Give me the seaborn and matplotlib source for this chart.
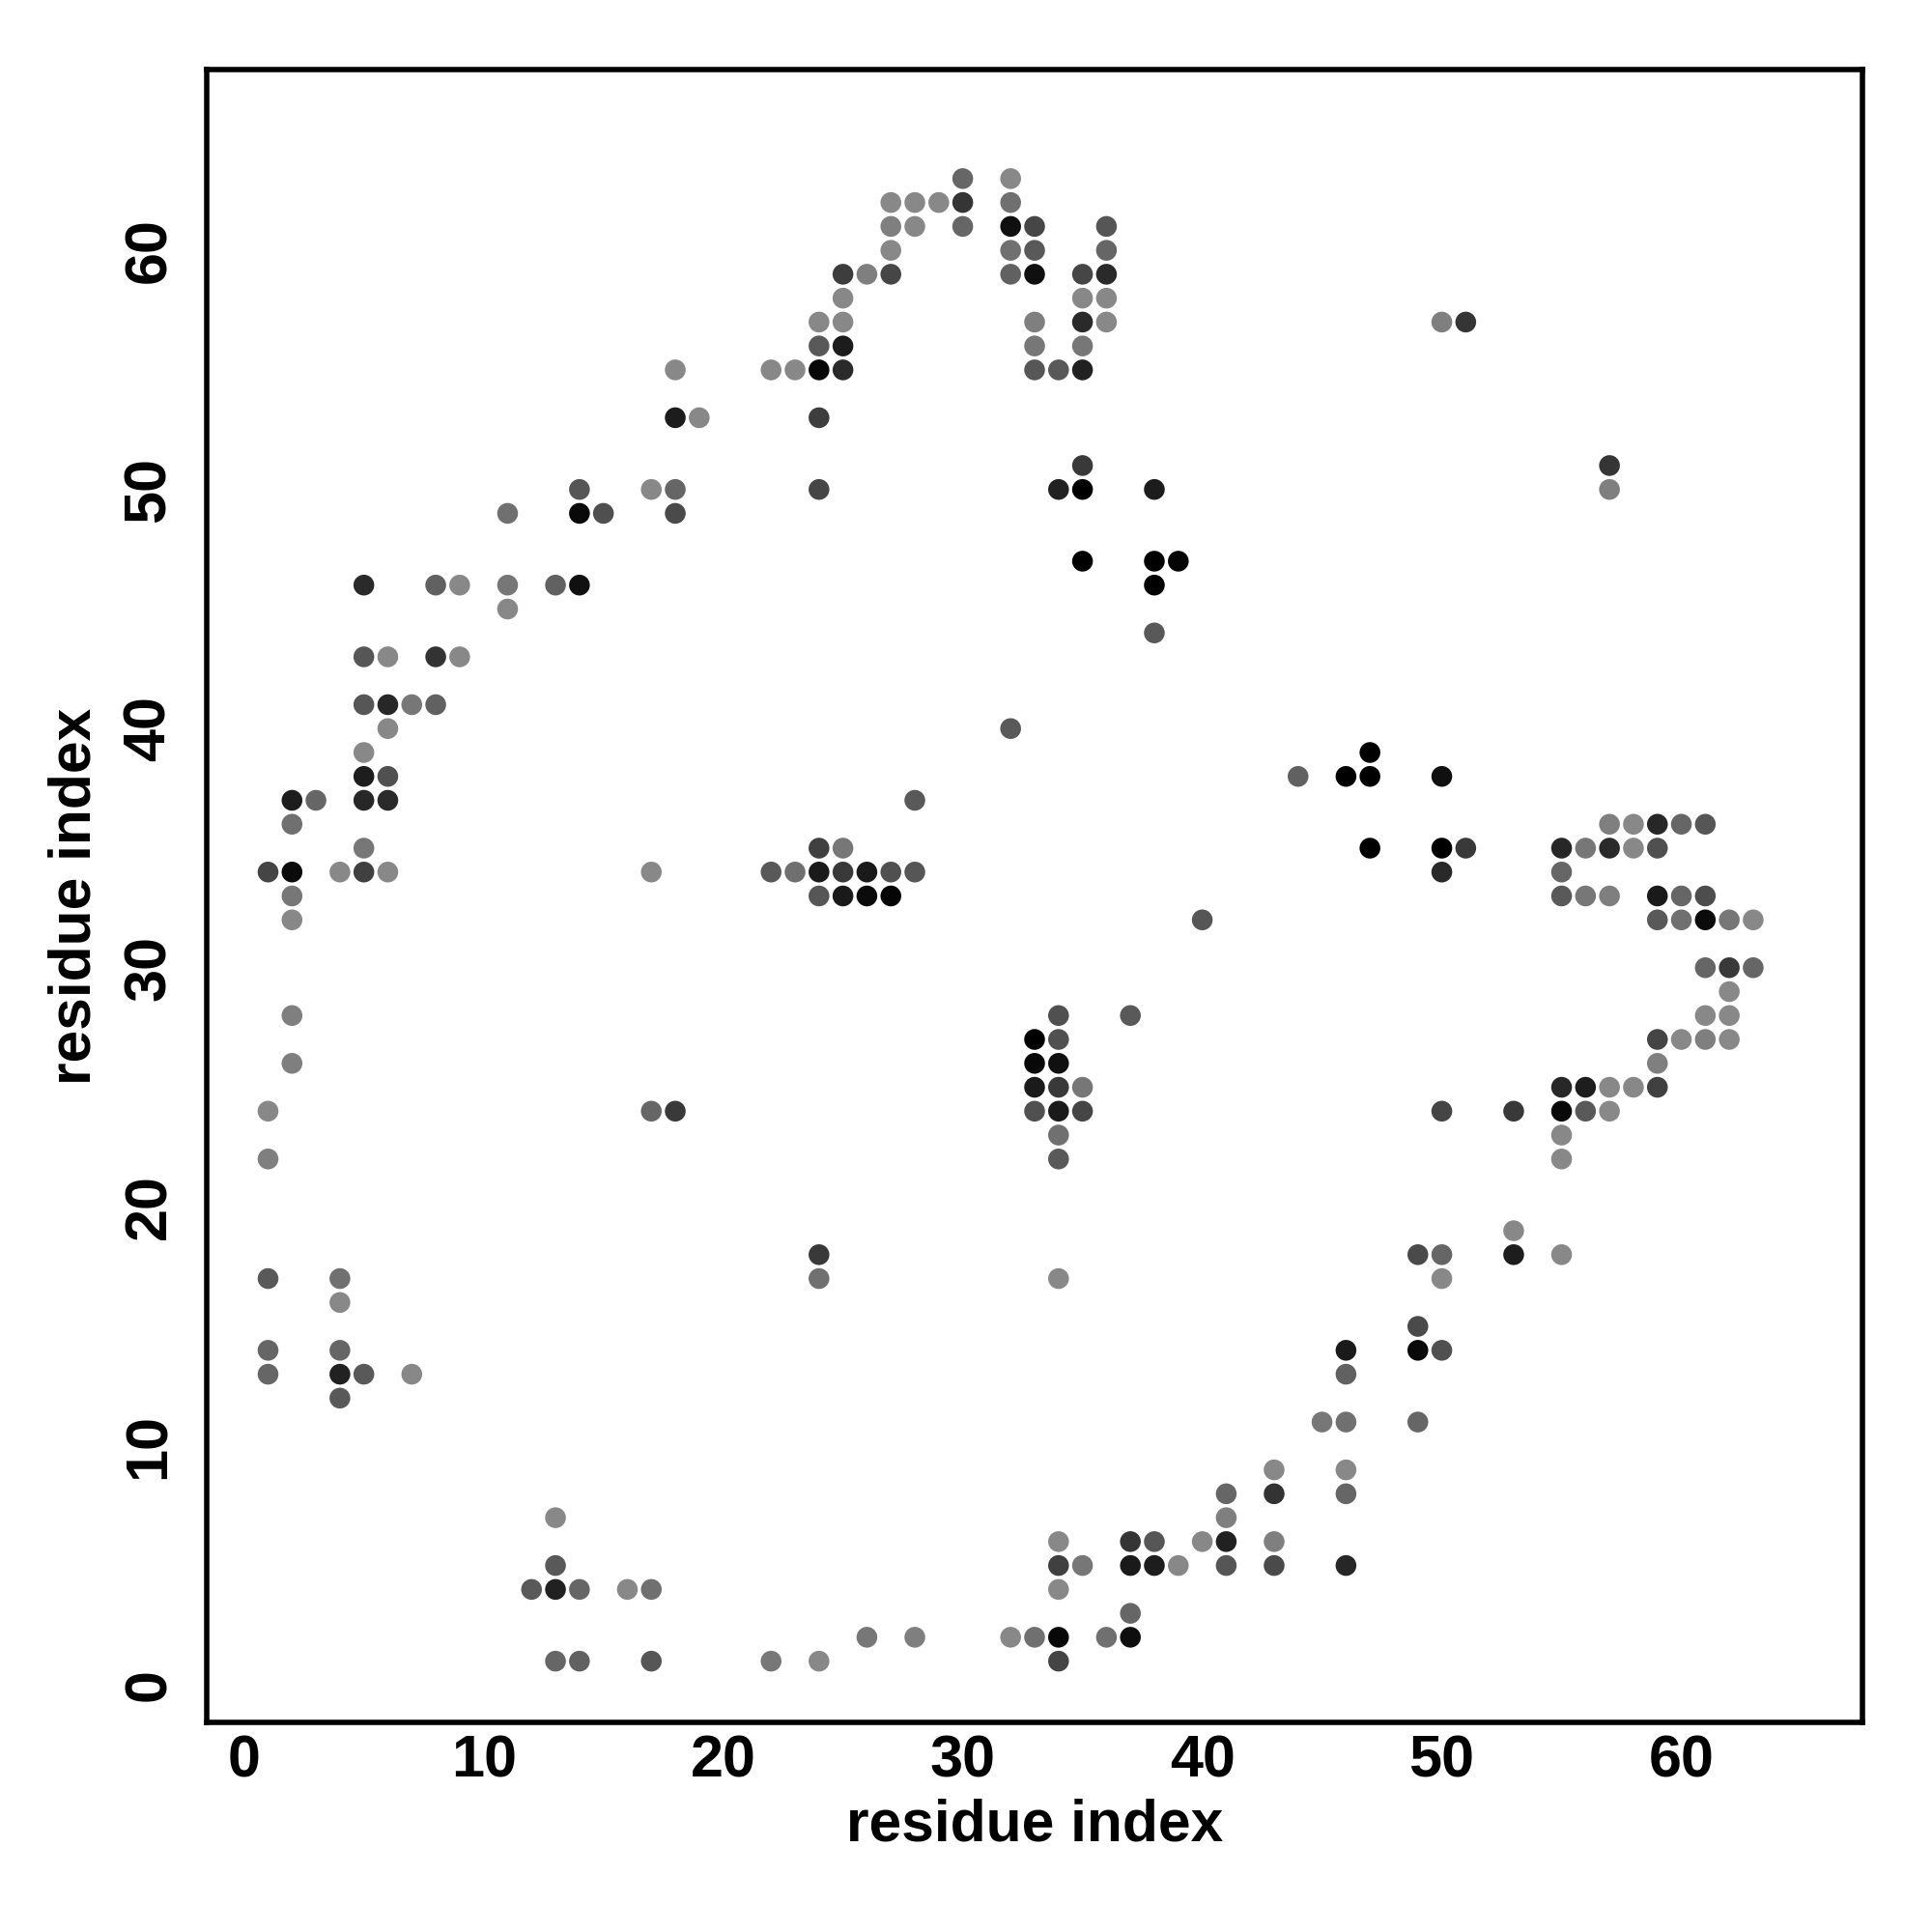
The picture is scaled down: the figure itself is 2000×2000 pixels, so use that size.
import pandas as pd
import matplotlib
matplotlib.use("Agg")
import matplotlib.pyplot as plt
from matplotlib.colors import LinearSegmentedColormap
import seaborn as sns

# contact pairs (i, j) and contact strength (0 = weak / light grey, 1 = strong / black)
res_i = [
    30, 32,
    27, 28, 29, 30, 32,
    27, 28, 30, 32, 33, 36,
    27, 32, 33, 36,
    25, 26, 27, 32, 33, 35, 36,
    25, 35, 36,
    24, 25, 33, 35, 36, 50, 51,
    24, 25, 33, 35,
    18, 22, 23, 24, 25, 33, 34, 35,
    18, 19, 24,
    35, 57,
    14, 17, 18, 24, 34, 35, 38, 57,
    11, 14, 15, 18,
    35, 38, 39,
    5, 8, 9, 11, 13, 14, 38,
    11,
    38,
    5, 6, 8, 9,
    5, 6, 7, 8,
    6, 32,
    5, 47,
    5, 6, 44, 46, 47, 50,
    2, 3, 5, 6, 28,
    2, 57, 58, 59, 60, 61,
    5, 24, 25, 47, 50, 51, 55, 56, 57, 58, 59,
    1, 2, 4, 5, 6, 17, 22, 23, 24, 25, 26, 27, 28, 50, 55,
    2, 24, 25, 26, 27, 55, 56, 57, 59, 60, 61,
    2, 40, 59, 60, 61, 62, 63,
    61, 62, 63,
    62,
    2, 34, 37, 61, 62,
    33, 34, 59, 60, 61, 62,
    2, 33, 34, 59,
    33, 34, 35, 55, 56, 57, 58, 59,
    1, 17, 18, 33, 34, 35, 50, 53, 55, 56, 57,
    34, 55,
    1, 34, 55,
    53,
    24, 49, 50, 53, 55,
    1, 4, 24, 34, 50,
    4,
    49,
    1, 4, 46, 49, 50,
    1, 4, 5, 7, 46,
    4,
    45, 46, 49,
    43, 46,
    41, 43, 46,
    13, 41,
    34, 37, 38, 40, 41, 43,
    13, 34, 35, 37, 38, 39, 41, 43, 46,
    12, 13, 14, 16, 17, 34,
    37,
    26, 28, 32, 33, 34, 36, 37,
    13, 14, 17, 22, 24, 34,
]
res_j = [
    63, 63,
    62, 62, 62, 62, 62,
    61, 61, 61, 61, 61, 61,
    60, 60, 60, 60,
    59, 59, 59, 59, 59, 59, 59,
    58, 58, 58,
    57, 57, 57, 57, 57, 57, 57,
    56, 56, 56, 56,
    55, 55, 55, 55, 55, 55, 55, 55,
    53, 53, 53,
    51, 51,
    50, 50, 50, 50, 50, 50, 50, 50,
    49, 49, 49, 49,
    47, 47, 47,
    46, 46, 46, 46, 46, 46, 46,
    45,
    44,
    43, 43, 43, 43,
    41, 41, 41, 41,
    40, 40,
    39, 39,
    38, 38, 38, 38, 38, 38,
    37, 37, 37, 37, 37,
    36, 36, 36, 36, 36, 36,
    35, 35, 35, 35, 35, 35, 35, 35, 35, 35, 35,
    34, 34, 34, 34, 34, 34, 34, 34, 34, 34, 34, 34, 34, 34, 34,
    33, 33, 33, 33, 33, 33, 33, 33, 33, 33, 33,
    32, 32, 32, 32, 32, 32, 32,
    30, 30, 30,
    29,
    28, 28, 28, 28, 28,
    27, 27, 27, 27, 27, 27,
    26, 26, 26, 26,
    25, 25, 25, 25, 25, 25, 25, 25,
    24, 24, 24, 24, 24, 24, 24, 24, 24, 24, 24,
    23, 23,
    22, 22, 22,
    19,
    18, 18, 18, 18, 18,
    17, 17, 17, 17, 17,
    16,
    15,
    14, 14, 14, 14, 14,
    13, 13, 13, 13, 13,
    12,
    11, 11, 11,
    9, 9,
    8, 8, 8,
    7, 7,
    6, 6, 6, 6, 6, 6,
    5, 5, 5, 5, 5, 5, 5, 5, 5,
    4, 4, 4, 4, 4, 4,
    3,
    2, 2, 2, 2, 2, 2, 2,
    1, 1, 1, 1, 1, 1,
]
strength = [
    .27, .03,
    .03, .03, .03, .62, .20,
    .09, .03, .27, .88, .50, .39,
    .03, .20, .36, .27,
    .56, .09, .50, .31, .88, .50, .70,
    .03, .03, .03,
    .03, .03, .09, .70, .03, .09, .62,
    .36, .80, .15, .15,
    .03, .03, .03, .94, .70, .39, .36, .76,
    .80, .03, .56,
    .59, .62,
    .39, .03, .27, .50, .76, 1.0, .80, .09,
    .20, .93, .44, .47,
    1.0, 1.0, .96,
    .70, .31, .03, .15, .31, .88, 1.0,
    .03,
    .36,
    .39, .03, .64, .03,
    .39, .72, .15, .31,
    .03, .36,
    .03, 1.0,
    .79, .43, .31, 1.0, 1.0, .88,
    .79, .27, .72, .70, .36,
    .20, .09, .03, .72, .27, .39,
    .15, .54, .15, 1.0, 1.0, .59, .72, .15, .70, .03, .43,
    .51, .92, .03, .54, .03, .03, .36, .20, .81, .59, .81, .43, .39, .71, .27,
    .15, .39, .81, .92, .96, .36, .15, .09, .81, .27, .45,
    .03, .39, .36, .20, .92, .15, .03,
    .27, .59, .27,
    .03,
    .09, .43, .36, .03, .03,
    1.0, .43, .51, .03, .09, .03,
    .09, .94, .88, .09,
    .81, .59, .15, .72, .79, .03, .03, .54,
    .03, .27, .59, .43, .81, .51, .51, .59, .93, .36, .03,
    .20, .03,
    .09, .36, .03,
    .03,
    .59, .47, .27, .79, .03,
    .36, .20, .20, .03, .03,
    .03,
    .47,
    .27, .27, .81, .93, .43,
    .27, .76, .36, .03, .31,
    .36,
    .15, .20, .27,
    .03, .03,
    .27, .64, .27,
    .03, .09,
    .03, .62, .39, .03, .76, .09,
    .36, .54, .15, .81, .79, .03, .39, .47, .72,
    .36, .76, .27, .03, .20, .03,
    .27,
    .15, .09, .03, .20, .94, .20, .90,
    .27, .31, .39, .15, .03, .51,
]

contacts = pd.DataFrame({"i": res_i, "j": res_j, "strength": strength})

sns.set_style("white")
plt.rcParams["font.family"] = ["Liberation Sans", "DejaVu Sans"]
plt.rcParams["font.weight"] = "bold"
plt.rcParams["text.color"] = "black"
plt.rcParams["axes.labelcolor"] = "black"
plt.rcParams["xtick.color"] = "black"
plt.rcParams["ytick.color"] = "black"

fig = plt.figure(figsize=(10, 10), dpi=200)
ax = fig.add_axes([0.107, 0.1085, 0.857, 0.8555])

grey_cmap = LinearSegmentedColormap.from_list("grey_contact", ["#8c8c8c", "#000000"])
sns.scatterplot(data=contacts, x="i", y="j", hue="strength", palette=grey_cmap,
                hue_norm=(0, 1), s=60, linewidth=0, legend=False, ax=ax)

ax.set_xlim(-1.56, 67.56)
ax.set_ylim(-1.56, 67.56)
ticks = [0, 10, 20, 30, 40, 50, 60]
ax.set_xticks(ticks)
ax.set_yticks(ticks)
ax.set_xticklabels([str(t) for t in ticks], fontsize=22, fontweight="bold")
ax.set_yticklabels([str(t) for t in ticks], fontsize=22, fontweight="bold",
                   rotation=90, va="center")
ax.tick_params(axis="x", direction="out", length=3.4, width=1.4, pad=1.0)
ax.tick_params(axis="y", direction="out", length=3.4, width=1.4, pad=7.4)
ax.set_xlabel("residue index", fontsize=21.8, fontweight="bold", labelpad=3.5)
ax.set_ylabel("residue index", fontsize=21.8, fontweight="bold", labelpad=7.5)

for side in ax.spines.values():
    side.set_visible(True)
    side.set_color("black")
    side.set_linewidth(2.0)

fig.savefig("out.png", dpi=200, facecolor="white")
plt.close(fig)
